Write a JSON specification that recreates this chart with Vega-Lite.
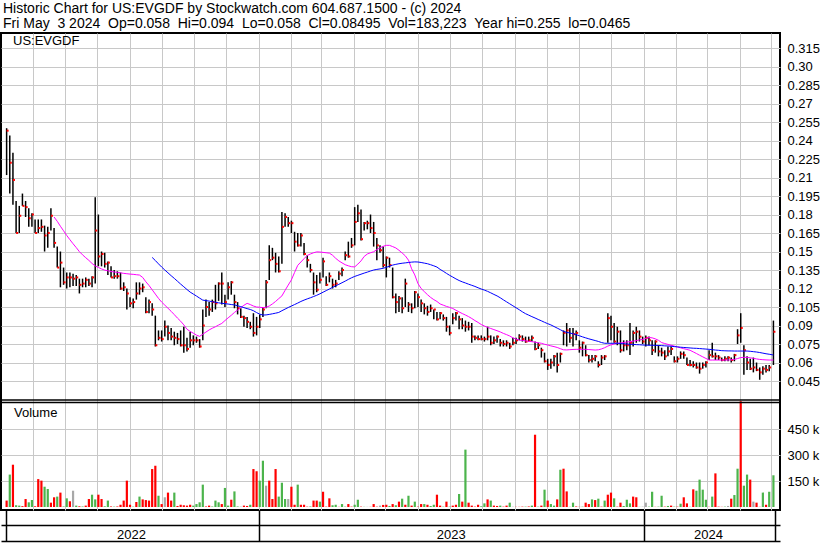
{
"$schema": "https://vega.github.io/schema/vega-lite/v6.json",
"width": 779, "height": 477,
"autosize": {"type": "none"},
"padding": {"left": 1, "top": 33, "right": 50, "bottom": 33},
"background": "white",
"title": {"text": ["Historic Chart for US:EVGDF by Stockwatch.com 604.687.1500 - (c) 2024", "Fri May \u00a03 2024 \u00a0Op=0.058 \u00a0Hi=0.094 \u00a0Lo=0.058 \u00a0Cl=0.08495 \u00a0Vol=183,223 \u00a0Year hi=0.255 \u00a0lo=0.0465"], "anchor": "start", "frame": "group", "font": "Liberation Sans", "fontSize": 14, "fontWeight": "normal", "color": "black", "lineHeight": 15, "offset": 2, "dx": 2},
"config": {"view": {"stroke": "black", "strokeWidth": 2}, "axis": {"labelFont": "Liberation Sans", "labelFontSize": 13, "labelColor": "black", "gridColor": "#c8c8c8", "gridWidth": 1}},
"datasets": {"p": [
{"d":"2022-05-07","h":0.250,"l":0.212,"c":0.248,"v":37,"s":"d"},
{"d":"2022-05-10","h":0.244,"l":0.197,"c":0.222,"v":187,"s":"u"},
{"d":"2022-05-13","h":0.230,"l":0.188,"c":0.208,"v":244,"s":"d"},
{"d":"2022-05-16","h":0.191,"l":0.165,"c":0.165,"v":10,"s":"u"},
{"d":"2022-05-19","h":0.187,"l":0.165,"c":0.179,"v":8,"s":"u"},
{"d":"2022-05-22","h":0.197,"l":0.187,"c":0.187,"v":5,"s":"d"},
{"d":"2022-05-25","h":0.191,"l":0.178,"c":0.186,"v":46,"s":"d"},
{"d":"2022-05-28","h":0.185,"l":0.170,"c":0.177,"v":27,"s":"u"},
{"d":"2022-05-31","h":0.181,"l":0.170,"c":0.180,"v":40,"s":"u"},
{"d":"2022-06-03","h":0.176,"l":0.165,"c":0.165,"v":4,"s":"d"},
{"d":"2022-06-06","h":0.176,"l":0.165,"c":0.169,"v":161,"s":"d"},
{"d":"2022-06-09","h":0.176,"l":0.166,"c":0.170,"v":152,"s":"d"},
{"d":"2022-06-12","h":0.171,"l":0.150,"c":0.163,"v":117,"s":"u"},
{"d":"2022-06-15","h":0.170,"l":0.153,"c":0.165,"v":104,"s":"u"},
{"d":"2022-06-18","h":0.185,"l":0.167,"c":0.179,"v":25,"s":"d"},
{"d":"2022-06-21","h":0.169,"l":0.153,"c":0.157,"v":56,"s":"d","m1":0.1780},
{"d":"2022-06-24","h":0.154,"l":0.137,"c":0.137,"v":60,"s":"u","m1":0.1745},
{"d":"2022-06-27","h":0.150,"l":0.121,"c":0.141,"v":83,"s":"d","m1":0.1705},
{"d":"2022-06-30","h":0.137,"l":0.123,"c":0.125,"v":3,"s":"u","m1":0.1668},
{"d":"2022-07-03","h":0.133,"l":0.120,"c":0.129,"v":50,"s":"u","m1":0.1630},
{"d":"2022-07-06","h":0.133,"l":0.121,"c":0.129,"v":33,"s":"d","m1":0.1596},
{"d":"2022-07-09","h":0.132,"l":0.122,"c":0.128,"v":94,"s":"f","m1":0.1563},
{"d":"2022-07-12","h":0.131,"l":0.122,"c":0.129,"v":8,"s":"u","m1":0.1532},
{"d":"2022-07-15","h":0.128,"l":0.116,"c":0.123,"v":4,"s":"d","m1":0.1499},
{"d":"2022-07-18","h":0.128,"l":0.121,"c":0.124,"v":3,"s":"u","m1":0.1473},
{"d":"2022-07-21","h":0.129,"l":0.121,"c":0.127,"v":8,"s":"d","m1":0.1450},
{"d":"2022-07-24","h":0.128,"l":0.122,"c":0.124,"v":46,"s":"d","m1":0.1428},
{"d":"2022-07-27","h":0.130,"l":0.121,"c":0.129,"v":71,"s":"u","m1":0.1403},
{"d":"2022-07-30","h":0.194,"l":0.124,"c":0.167,"v":44,"s":"u","m1":0.1383},
{"d":"2022-08-02","h":0.180,"l":0.138,"c":0.146,"v":71,"s":"d","m1":0.1371},
{"d":"2022-08-05","h":0.150,"l":0.138,"c":0.148,"v":46,"s":"d","m1":0.1359},
{"d":"2022-08-08","h":0.149,"l":0.137,"c":0.140,"v":4,"s":"u","m1":0.1349},
{"d":"2022-08-11","h":0.142,"l":0.131,"c":0.141,"v":37,"s":"u","m1":0.1344},
{"d":"2022-08-14","h":0.138,"l":0.129,"c":0.129,"v":3,"s":"d","m1":0.1338},
{"d":"2022-08-17","h":0.135,"l":0.128,"c":0.130,"v":2,"s":"u","m1":0.1334},
{"d":"2022-08-20","h":0.134,"l":0.128,"c":0.130,"v":3,"s":"d","m1":0.1331},
{"d":"2022-08-23","h":0.133,"l":0.119,"c":0.120,"v":13,"s":"d","m1":0.1327},
{"d":"2022-08-26","h":0.125,"l":0.118,"c":0.121,"v":37,"s":"d","m1":0.1323},
{"d":"2022-08-29","h":0.120,"l":0.103,"c":0.116,"v":152,"s":"d","m1":0.1320},
{"d":"2022-09-01","h":0.113,"l":0.105,"c":0.108,"v":13,"s":"d","m1":0.1317},
{"d":"2022-09-04","h":0.112,"l":0.104,"c":0.109,"v":2,"s":"u","m1":0.1315},
{"d":"2022-09-07","h":0.125,"l":0.111,"c":0.116,"v":29,"s":"d","m1":0.1312},
{"d":"2022-09-10","h":0.125,"l":0.115,"c":0.120,"v":60,"s":"u","m1":0.1309},
{"d":"2022-09-13","h":0.124,"l":0.117,"c":0.121,"v":44,"s":"d","m1":0.1290},
{"d":"2022-09-16","h":0.113,"l":0.100,"c":0.101,"v":40,"s":"d","m1":0.1255},
{"d":"2022-09-19","h":0.111,"l":0.100,"c":0.109,"v":37,"s":"d","m1":0.1225},
{"d":"2022-09-22","h":0.108,"l":0.098,"c":0.103,"v":219,"s":"d","m1":0.1190,"m2":0.1452},
{"d":"2022-09-25","h":0.098,"l":0.073,"c":0.074,"v":238,"s":"d","m1":0.1155,"m2":0.1427},
{"d":"2022-09-28","h":0.086,"l":0.078,"c":0.080,"v":65,"s":"u","m1":0.1120,"m2":0.1400},
{"d":"2022-10-01","h":0.086,"l":0.077,"c":0.079,"v":17,"s":"d","m1":0.1090,"m2":0.1374},
{"d":"2022-10-04","h":0.094,"l":0.081,"c":0.089,"v":56,"s":"f","m1":0.1065,"m2":0.1350},
{"d":"2022-10-07","h":0.090,"l":0.078,"c":0.084,"v":83,"s":"d","m1":0.1040,"m2":0.1327},
{"d":"2022-10-10","h":0.088,"l":0.078,"c":0.081,"v":37,"s":"d","m1":0.1015,"m2":0.1304},
{"d":"2022-10-13","h":0.085,"l":0.074,"c":0.080,"v":83,"s":"u","m1":0.0988,"m2":0.1282},
{"d":"2022-10-16","h":0.084,"l":0.075,"c":0.079,"v":6,"s":"d","m1":0.0960,"m2":0.1259},
{"d":"2022-10-19","h":0.086,"l":0.073,"c":0.074,"v":13,"s":"d","m1":0.0935,"m2":0.1236},
{"d":"2022-10-22","h":0.089,"l":0.068,"c":0.074,"v":10,"s":"d","m1":0.0905,"m2":0.1214},
{"d":"2022-10-25","h":0.080,"l":0.069,"c":0.071,"v":8,"s":"d","m1":0.0870,"m2":0.1192},
{"d":"2022-10-28","h":0.085,"l":0.072,"c":0.078,"v":13,"s":"d","m1":0.0852,"m2":0.1171},
{"d":"2022-10-31","h":0.082,"l":0.074,"c":0.078,"v":8,"s":"u","m1":0.0838,"m2":0.1155},
{"d":"2022-11-03","h":0.081,"l":0.076,"c":0.078,"v":17,"s":"u","m1":0.0822,"m2":0.1139},
{"d":"2022-11-06","h":0.079,"l":0.072,"c":0.073,"v":27,"s":"u","m1":0.0812,"m2":0.1122},
{"d":"2022-11-09","h":0.103,"l":0.078,"c":0.090,"v":129,"s":"u","m1":0.0830,"m2":0.1106},
{"d":"2022-11-12","h":0.111,"l":0.097,"c":0.105,"v":3,"s":"d","m1":0.0847,"m2":0.1102},
{"d":"2022-11-15","h":0.109,"l":0.098,"c":0.103,"v":8,"s":"d","m1":0.0864,"m2":0.1098},
{"d":"2022-11-18","h":0.111,"l":0.101,"c":0.109,"v":3,"s":"u","m1":0.0878,"m2":0.1093},
{"d":"2022-11-21","h":0.123,"l":0.103,"c":0.108,"v":37,"s":"u","m1":0.0890,"m2":0.1089},
{"d":"2022-11-24","h":0.125,"l":0.110,"c":0.124,"v":27,"s":"u","m1":0.0904,"m2":0.1084},
{"d":"2022-11-27","h":0.133,"l":0.107,"c":0.124,"v":17,"s":"d","m1":0.0917,"m2":0.1080},
{"d":"2022-11-30","h":0.115,"l":0.105,"c":0.109,"v":110,"s":"u","m1":0.0940,"m2":0.1077},
{"d":"2022-12-03","h":0.125,"l":0.111,"c":0.121,"v":8,"s":"u","m1":0.0962,"m2":0.1074},
{"d":"2022-12-06","h":0.126,"l":0.115,"c":0.125,"v":42,"s":"d","m1":0.0983,"m2":0.1070},
{"d":"2022-12-09","h":0.115,"l":0.104,"c":0.109,"v":90,"s":"u","m1":0.1006,"m2":0.1067},
{"d":"2022-12-12","h":0.109,"l":0.099,"c":0.104,"v":3,"s":"u","m1":0.1025,"m2":0.1060},
{"d":"2022-12-15","h":0.104,"l":0.096,"c":0.097,"v":2,"s":"f","m1":0.1045,"m2":0.1053},
{"d":"2022-12-18","h":0.098,"l":0.089,"c":0.096,"v":8,"s":"d","m1":0.1064,"m2":0.1045},
{"d":"2022-12-21","h":0.097,"l":0.088,"c":0.093,"v":6,"s":"d","m1":0.1080,"m2":0.1037},
{"d":"2022-12-24","h":0.093,"l":0.087,"c":0.089,"v":13,"s":"u","m1":0.1070,"m2":0.1030},
{"d":"2022-12-27","h":0.100,"l":0.081,"c":0.084,"v":219,"s":"d","m1":0.1058,"m2":0.1020},
{"d":"2022-12-30","h":0.097,"l":0.082,"c":0.089,"v":206,"s":"d","m1":0.1050,"m2":0.1005},
{"d":"2023-01-02","h":0.099,"l":0.088,"c":0.095,"v":152,"s":"u","m1":0.1048,"m2":0.0992},
{"d":"2023-01-05","h":0.105,"l":0.097,"c":0.103,"v":267,"s":"u","m1":0.1045,"m2":0.0985},
{"d":"2023-01-08","h":0.127,"l":0.104,"c":0.125,"v":123,"s":"f","m1":0.1048,"m2":0.0986},
{"d":"2023-01-11","h":0.155,"l":0.127,"c":0.143,"v":152,"s":"d","m1":0.1058,"m2":0.0990},
{"d":"2023-01-14","h":0.153,"l":0.143,"c":0.145,"v":46,"s":"d","m1":0.1075,"m2":0.0995},
{"d":"2023-01-17","h":0.149,"l":0.133,"c":0.140,"v":219,"s":"d","m1":0.1095,"m2":0.1000},
{"d":"2023-01-20","h":0.146,"l":0.133,"c":0.134,"v":60,"s":"u","m1":0.1118,"m2":0.1006},
{"d":"2023-01-23","h":0.182,"l":0.140,"c":0.170,"v":140,"s":"u","m1":0.1140,"m2":0.1020},
{"d":"2023-01-26","h":0.181,"l":0.170,"c":0.178,"v":46,"s":"u","m1":0.1185,"m2":0.1033},
{"d":"2023-01-29","h":0.178,"l":0.170,"c":0.173,"v":46,"s":"f","m1":0.1228,"m2":0.1046},
{"d":"2023-02-01","h":0.175,"l":0.165,"c":0.173,"v":117,"s":"d","m1":0.1270,"m2":0.1058},
{"d":"2023-02-04","h":0.166,"l":0.150,"c":0.158,"v":13,"s":"d","m1":0.1330,"m2":0.1070},
{"d":"2023-02-07","h":0.165,"l":0.154,"c":0.155,"v":129,"s":"u","m1":0.1388,"m2":0.1082},
{"d":"2023-02-10","h":0.165,"l":0.154,"c":0.163,"v":13,"s":"d","m1":0.1415,"m2":0.1095},
{"d":"2023-02-13","h":0.157,"l":0.147,"c":0.148,"v":13,"s":"d","m1":0.1442,"m2":0.1106},
{"d":"2023-02-16","h":0.147,"l":0.137,"c":0.143,"v":2,"s":"d","m1":0.1468,"m2":0.1116},
{"d":"2023-02-19","h":0.140,"l":0.133,"c":0.135,"v":3,"s":"u","m1":0.1480,"m2":0.1125},
{"d":"2023-02-22","h":0.133,"l":0.115,"c":0.125,"v":37,"s":"d","m1":0.1490,"m2":0.1135},
{"d":"2023-02-25","h":0.131,"l":0.117,"c":0.119,"v":37,"s":"d","m1":0.1497,"m2":0.1145},
{"d":"2023-02-28","h":0.133,"l":0.124,"c":0.127,"v":31,"s":"u","m1":0.1496,"m2":0.1157},
{"d":"2023-03-03","h":0.145,"l":0.129,"c":0.142,"v":88,"s":"d","m1":0.1493,"m2":0.1170},
{"d":"2023-03-06","h":0.130,"l":0.122,"c":0.123,"v":2,"s":"d","m1":0.1490,"m2":0.1183},
{"d":"2023-03-09","h":0.133,"l":0.125,"c":0.130,"v":50,"s":"d","m1":0.1487,"m2":0.1196},
{"d":"2023-03-12","h":0.128,"l":0.120,"c":0.123,"v":10,"s":"u","m1":0.1470,"m2":0.1209},
{"d":"2023-03-15","h":0.127,"l":0.121,"c":0.124,"v":13,"s":"u","m1":0.1445,"m2":0.1222},
{"d":"2023-03-18","h":0.134,"l":0.127,"c":0.132,"v":1,"s":"d","m1":0.1424,"m2":0.1234},
{"d":"2023-03-21","h":0.137,"l":0.130,"c":0.135,"v":17,"s":"u","m1":0.1408,"m2":0.1247},
{"d":"2023-03-24","h":0.150,"l":0.143,"c":0.147,"v":2,"s":"u","m1":0.1393,"m2":0.1260},
{"d":"2023-03-27","h":0.158,"l":0.145,"c":0.146,"v":17,"s":"d","m1":0.1384,"m2":0.1274},
{"d":"2023-03-30","h":0.161,"l":0.153,"c":0.155,"v":2,"s":"d","m1":0.1377,"m2":0.1287},
{"d":"2023-04-02","h":0.186,"l":0.155,"c":0.174,"v":13,"s":"u","m1":0.1375,"m2":0.1298},
{"d":"2023-04-05","h":0.188,"l":0.174,"c":0.181,"v":42,"s":"u","m1":0.1398,"m2":0.1307},
{"d":"2023-04-08","h":0.184,"l":0.159,"c":0.160,"v":2,"s":"d","m1":0.1424,"m2":0.1316},
{"d":"2023-04-11","h":0.174,"l":0.167,"c":0.173,"v":1,"s":"u","m1":0.1460,"m2":0.1325},
{"d":"2023-04-14","h":0.175,"l":0.168,"c":0.173,"v":1,"s":"f","m1":0.1480,"m2":0.1333},
{"d":"2023-04-17","h":0.180,"l":0.165,"c":0.169,"v":1,"s":"d","m1":0.1490,"m2":0.1342},
{"d":"2023-04-20","h":0.174,"l":0.154,"c":0.165,"v":17,"s":"d","m1":0.1498,"m2":0.1350},
{"d":"2023-04-23","h":0.161,"l":0.143,"c":0.155,"v":2,"s":"d","m1":0.1515,"m2":0.1355},
{"d":"2023-04-26","h":0.155,"l":0.149,"c":0.151,"v":8,"s":"f","m1":0.1530,"m2":0.1359},
{"d":"2023-04-29","h":0.154,"l":0.137,"c":0.139,"v":12,"s":"d","m1":0.1542,"m2":0.1364},
{"d":"2023-05-02","h":0.146,"l":0.129,"c":0.145,"v":13,"s":"d","m1":0.1550,"m2":0.1372},
{"d":"2023-05-05","h":0.145,"l":0.137,"c":0.139,"v":6,"s":"u","m1":0.1550,"m2":0.1381},
{"d":"2023-05-08","h":0.137,"l":0.112,"c":0.113,"v":17,"s":"d","m1":0.1540,"m2":0.1390},
{"d":"2023-05-11","h":0.116,"l":0.100,"c":0.109,"v":10,"s":"u","m1":0.1529,"m2":0.1396},
{"d":"2023-05-14","h":0.114,"l":0.101,"c":0.112,"v":31,"s":"d","m1":0.1510,"m2":0.1401},
{"d":"2023-05-17","h":0.113,"l":0.100,"c":0.104,"v":48,"s":"u","m1":0.1488,"m2":0.1405},
{"d":"2023-05-20","h":0.128,"l":0.105,"c":0.124,"v":13,"s":"d","m1":0.1465,"m2":0.1408},
{"d":"2023-05-23","h":0.109,"l":0.101,"c":0.107,"v":65,"s":"u","m1":0.1430,"m2":0.1411},
{"d":"2023-05-26","h":0.108,"l":0.100,"c":0.104,"v":8,"s":"d","m1":0.1360,"m2":0.1414},
{"d":"2023-05-29","h":0.118,"l":0.104,"c":0.117,"v":31,"s":"u","m1":0.1310,"m2":0.1416},
{"d":"2023-06-01","h":0.116,"l":0.105,"c":0.113,"v":2,"s":"d","m1":0.1240,"m2":0.1415},
{"d":"2023-06-04","h":0.111,"l":0.101,"c":0.108,"v":17,"s":"d","m1":0.1200,"m2":0.1411},
{"d":"2023-06-07","h":0.108,"l":0.099,"c":0.104,"v":17,"s":"u","m1":0.1175,"m2":0.1406},
{"d":"2023-06-10","h":0.106,"l":0.098,"c":0.101,"v":13,"s":"d","m1":0.1150,"m2":0.1401},
{"d":"2023-06-13","h":0.107,"l":0.101,"c":0.104,"v":6,"s":"u","m1":0.1128,"m2":0.1393},
{"d":"2023-06-16","h":0.103,"l":0.095,"c":0.103,"v":13,"s":"u","m1":0.1110,"m2":0.1384},
{"d":"2023-06-19","h":0.101,"l":0.094,"c":0.095,"v":71,"s":"d","m1":0.1095,"m2":0.1374},
{"d":"2023-06-22","h":0.101,"l":0.095,"c":0.100,"v":8,"s":"d","m1":0.1075,"m2":0.1355},
{"d":"2023-06-25","h":0.099,"l":0.094,"c":0.096,"v":2,"s":"u","m1":0.1065,"m2":0.1340},
{"d":"2023-06-28","h":0.097,"l":0.085,"c":0.089,"v":31,"s":"d","m1":0.1055,"m2":0.1323},
{"d":"2023-07-01","h":0.090,"l":0.082,"c":0.084,"v":2,"s":"u","m1":0.1047,"m2":0.1307},
{"d":"2023-07-04","h":0.100,"l":0.091,"c":0.096,"v":8,"s":"d","m1":0.1038,"m2":0.1293},
{"d":"2023-07-07","h":0.101,"l":0.094,"c":0.100,"v":13,"s":"d","m1":0.1024,"m2":0.1278},
{"d":"2023-07-10","h":0.098,"l":0.087,"c":0.095,"v":75,"s":"u","m1":0.1010,"m2":0.1265},
{"d":"2023-07-13","h":0.096,"l":0.087,"c":0.090,"v":31,"s":"d","m1":0.0997,"m2":0.1254},
{"d":"2023-07-16","h":0.094,"l":0.085,"c":0.089,"v":331,"s":"u","m1":0.0985,"m2":0.1245},
{"d":"2023-07-19","h":0.093,"l":0.086,"c":0.089,"v":25,"s":"d","m1":0.0972,"m2":0.1235},
{"d":"2023-07-22","h":0.092,"l":0.076,"c":0.081,"v":8,"s":"d","m1":0.0957,"m2":0.1226},
{"d":"2023-07-25","h":0.082,"l":0.078,"c":0.080,"v":2,"s":"d","m1":0.0940,"m2":0.1217},
{"d":"2023-07-28","h":0.082,"l":0.078,"c":0.079,"v":13,"s":"d","m1":0.0925,"m2":0.1206},
{"d":"2023-07-31","h":0.082,"l":0.078,"c":0.079,"v":4,"s":"u","m1":0.0908,"m2":0.1196},
{"d":"2023-08-03","h":0.081,"l":0.077,"c":0.079,"v":21,"s":"u","m1":0.0896,"m2":0.1187},
{"d":"2023-08-06","h":0.089,"l":0.078,"c":0.081,"v":44,"s":"d","m1":0.0885,"m2":0.1177},
{"d":"2023-08-09","h":0.082,"l":0.074,"c":0.076,"v":37,"s":"u","m1":0.0876,"m2":0.1165},
{"d":"2023-08-12","h":0.081,"l":0.075,"c":0.078,"v":8,"s":"d","m1":0.0867,"m2":0.1152},
{"d":"2023-08-15","h":0.082,"l":0.076,"c":0.081,"v":6,"s":"d","m1":0.0858,"m2":0.1140},
{"d":"2023-08-18","h":0.079,"l":0.073,"c":0.076,"v":8,"s":"u","m1":0.0848,"m2":0.1125},
{"d":"2023-08-21","h":0.078,"l":0.073,"c":0.075,"v":2,"s":"d","m1":0.0836,"m2":0.1108},
{"d":"2023-08-24","h":0.078,"l":0.073,"c":0.076,"v":8,"s":"d","m1":0.0826,"m2":0.1092},
{"d":"2023-08-27","h":0.076,"l":0.071,"c":0.073,"v":25,"s":"u","m1":0.0815,"m2":0.1076},
{"d":"2023-08-30","h":0.080,"l":0.074,"c":0.076,"v":1,"s":"f","m1":0.0800,"m2":0.1060},
{"d":"2023-09-02","h":0.080,"l":0.075,"c":0.078,"v":1,"s":"d","m1":0.0790,"m2":0.1044},
{"d":"2023-09-05","h":0.083,"l":0.078,"c":0.081,"v":1,"s":"d","m1":0.0782,"m2":0.1028},
{"d":"2023-09-08","h":0.082,"l":0.077,"c":0.079,"v":2,"s":"d","m1":0.0779,"m2":0.1011},
{"d":"2023-09-11","h":0.081,"l":0.076,"c":0.077,"v":2,"s":"u","m1":0.0776,"m2":0.0996},
{"d":"2023-09-14","h":0.081,"l":0.077,"c":0.078,"v":3,"s":"d","m1":0.0772,"m2":0.0984},
{"d":"2023-09-17","h":0.082,"l":0.077,"c":0.080,"v":8,"s":"u","m1":0.0769,"m2":0.0972},
{"d":"2023-09-20","h":0.077,"l":0.070,"c":0.071,"v":417,"s":"d","m1":0.0765,"m2":0.0961},
{"d":"2023-09-23","h":0.076,"l":0.071,"c":0.074,"v":2,"s":"u","m1":0.0760,"m2":0.0949},
{"d":"2023-09-26","h":0.072,"l":0.064,"c":0.070,"v":8,"s":"d","m1":0.0756,"m2":0.0938},
{"d":"2023-09-29","h":0.068,"l":0.060,"c":0.061,"v":100,"s":"u","m1":0.0748,"m2":0.0926},
{"d":"2023-10-02","h":0.063,"l":0.054,"c":0.058,"v":37,"s":"d","m1":0.0742,"m2":0.0915},
{"d":"2023-10-05","h":0.063,"l":0.055,"c":0.060,"v":17,"s":"u","m1":0.0735,"m2":0.0905},
{"d":"2023-10-08","h":0.066,"l":0.057,"c":0.065,"v":8,"s":"u","m1":0.0729,"m2":0.0892},
{"d":"2023-10-11","h":0.068,"l":0.052,"c":0.058,"v":44,"s":"d","m1":0.0722,"m2":0.0879},
{"d":"2023-10-14","h":0.068,"l":0.060,"c":0.067,"v":215,"s":"u","m1":0.0712,"m2":0.0866},
{"d":"2023-10-17","h":0.086,"l":0.074,"c":0.084,"v":221,"s":"d","m1":0.0703,"m2":0.0852},
{"d":"2023-10-20","h":0.092,"l":0.073,"c":0.086,"v":90,"s":"d","m1":0.0702,"m2":0.0845},
{"d":"2023-10-23","h":0.088,"l":0.076,"c":0.080,"v":1,"s":"u","m1":0.0704,"m2":0.0839},
{"d":"2023-10-26","h":0.088,"l":0.073,"c":0.083,"v":25,"s":"u","m1":0.0706,"m2":0.0833},
{"d":"2023-10-29","h":0.086,"l":0.078,"c":0.084,"v":3,"s":"d","m1":0.0707,"m2":0.0826},
{"d":"2023-11-01","h":0.078,"l":0.068,"c":0.072,"v":1,"s":"d","m1":0.0707,"m2":0.0817},
{"d":"2023-11-04","h":0.077,"l":0.065,"c":0.076,"v":2,"s":"u","m1":0.0707,"m2":0.0808},
{"d":"2023-11-07","h":0.074,"l":0.065,"c":0.066,"v":25,"s":"d","m1":0.0707,"m2":0.0800},
{"d":"2023-11-10","h":0.066,"l":0.060,"c":0.062,"v":17,"s":"d","m1":0.0705,"m2":0.0792},
{"d":"2023-11-13","h":0.066,"l":0.060,"c":0.063,"v":44,"s":"u","m1":0.0703,"m2":0.0785},
{"d":"2023-11-16","h":0.066,"l":0.061,"c":0.065,"v":40,"s":"d","m1":0.0701,"m2":0.0778},
{"d":"2023-11-19","h":0.061,"l":0.056,"c":0.058,"v":48,"s":"u","m1":0.0703,"m2":0.0771},
{"d":"2023-11-22","h":0.066,"l":0.058,"c":0.064,"v":2,"s":"d","m1":0.0710,"m2":0.0762},
{"d":"2023-11-25","h":0.066,"l":0.062,"c":0.065,"v":37,"s":"u","m1":0.0720,"m2":0.0756},
{"d":"2023-11-28","h":0.100,"l":0.076,"c":0.096,"v":71,"s":"d","m1":0.0733,"m2":0.0756},
{"d":"2023-12-01","h":0.098,"l":0.078,"c":0.089,"v":83,"s":"d","m1":0.0743,"m2":0.0756},
{"d":"2023-12-04","h":0.092,"l":0.076,"c":0.077,"v":50,"s":"u","m1":0.0750,"m2":0.0756},
{"d":"2023-12-07","h":0.089,"l":0.074,"c":0.085,"v":2,"s":"d","m1":0.0756,"m2":0.0756},
{"d":"2023-12-10","h":0.086,"l":0.068,"c":0.070,"v":25,"s":"d","m1":0.0759,"m2":0.0754},
{"d":"2023-12-13","h":0.078,"l":0.069,"c":0.074,"v":6,"s":"u","m1":0.0762,"m2":0.0752},
{"d":"2023-12-16","h":0.078,"l":0.070,"c":0.074,"v":42,"s":"u","m1":0.0766,"m2":0.0750},
{"d":"2023-12-19","h":0.092,"l":0.066,"c":0.076,"v":21,"s":"u","m1":0.0769,"m2":0.0748},
{"d":"2023-12-22","h":0.086,"l":0.073,"c":0.084,"v":60,"s":"d","m1":0.0773,"m2":0.0747},
{"d":"2023-12-25","h":0.089,"l":0.076,"c":0.085,"v":56,"s":"d","m1":0.0778,"m2":0.0745},
{"d":"2023-12-28","h":0.086,"l":0.077,"c":0.081,"v":1,"s":"u","m1":0.0783,"m2":0.0744},
{"d":"2023-12-31","h":0.081,"l":0.075,"c":0.077,"v":2,"s":"f","m1":0.0788,"m2":0.0742},
{"d":"2024-01-03","h":0.082,"l":0.073,"c":0.080,"v":25,"s":"f","m1":0.0796,"m2":0.0741},
{"d":"2024-01-06","h":0.081,"l":0.074,"c":0.078,"v":2,"s":"u","m1":0.0803,"m2":0.0740},
{"d":"2024-01-09","h":0.078,"l":0.066,"c":0.070,"v":88,"s":"u","m1":0.0800,"m2":0.0740},
{"d":"2024-01-12","h":0.078,"l":0.068,"c":0.077,"v":1,"s":"d","m1":0.0792,"m2":0.0739},
{"d":"2024-01-15","h":0.074,"l":0.065,"c":0.069,"v":2,"s":"u","m1":0.0780,"m2":0.0738},
{"d":"2024-01-18","h":0.072,"l":0.065,"c":0.068,"v":65,"s":"u","m1":0.0762,"m2":0.0737},
{"d":"2024-01-21","h":0.070,"l":0.062,"c":0.065,"v":2,"s":"d","m1":0.0754,"m2":0.0735},
{"d":"2024-01-24","h":0.073,"l":0.065,"c":0.069,"v":6,"s":"u","m1":0.0747,"m2":0.0734},
{"d":"2024-01-27","h":0.073,"l":0.066,"c":0.071,"v":8,"s":"d","m1":0.0740,"m2":0.0732},
{"d":"2024-01-30","h":0.065,"l":0.060,"c":0.061,"v":2,"s":"u","m1":0.0733,"m2":0.0729},
{"d":"2024-02-02","h":0.065,"l":0.060,"c":0.063,"v":2,"s":"d","m1":0.0726,"m2":0.0727},
{"d":"2024-02-05","h":0.069,"l":0.063,"c":0.067,"v":19,"s":"u","m1":0.0719,"m2":0.0724},
{"d":"2024-02-08","h":0.069,"l":0.063,"c":0.066,"v":56,"s":"d","m1":0.0712,"m2":0.0722},
{"d":"2024-02-11","h":0.064,"l":0.058,"c":0.058,"v":21,"s":"d","m1":0.0706,"m2":0.0720},
{"d":"2024-02-14","h":0.062,"l":0.057,"c":0.058,"v":1,"s":"u","m1":0.0699,"m2":0.0718},
{"d":"2024-02-17","h":0.061,"l":0.056,"c":0.058,"v":102,"s":"d","m1":0.0686,"m2":0.0716},
{"d":"2024-02-20","h":0.060,"l":0.055,"c":0.056,"v":94,"s":"u","m1":0.0673,"m2":0.0715},
{"d":"2024-02-23","h":0.060,"l":0.051,"c":0.055,"v":158,"s":"u","m1":0.0659,"m2":0.0713},
{"d":"2024-02-26","h":0.060,"l":0.055,"c":0.058,"v":100,"s":"u","m1":0.0646,"m2":0.0711},
{"d":"2024-02-29","h":0.061,"l":0.056,"c":0.060,"v":42,"s":"u","m1":0.0633,"m2":0.0709},
{"d":"2024-03-03","h":0.070,"l":0.062,"c":0.066,"v":1,"s":"d","m1":0.0620,"m2":0.0707},
{"d":"2024-03-06","h":0.076,"l":0.064,"c":0.065,"v":60,"s":"u","m1":0.0620,"m2":0.0704},
{"d":"2024-03-09","h":0.068,"l":0.062,"c":0.065,"v":194,"s":"d","m1":0.0620,"m2":0.0701},
{"d":"2024-03-12","h":0.066,"l":0.062,"c":0.064,"v":2,"s":"d","m1":0.0620,"m2":0.0699},
{"d":"2024-03-15","h":0.064,"l":0.061,"c":0.062,"v":1,"s":"d","m1":0.0620,"m2":0.0696},
{"d":"2024-03-18","h":0.065,"l":0.061,"c":0.063,"v":2,"s":"u","m1":0.0620,"m2":0.0695},
{"d":"2024-03-21","h":0.065,"l":0.061,"c":0.064,"v":6,"s":"f","m1":0.0620,"m2":0.0694},
{"d":"2024-03-24","h":0.064,"l":0.060,"c":0.062,"v":48,"s":"d","m1":0.0622,"m2":0.0694},
{"d":"2024-03-27","h":0.067,"l":0.061,"c":0.066,"v":69,"s":"u","m1":0.0625,"m2":0.0693},
{"d":"2024-03-30","h":0.087,"l":0.075,"c":0.082,"v":221,"s":"u","m1":0.0632,"m2":0.0693},
{"d":"2024-04-02","h":0.100,"l":0.076,"c":0.088,"v":610,"s":"d","m1":0.0640,"m2":0.0693},
{"d":"2024-04-05","h":0.074,"l":0.050,"c":0.070,"v":123,"s":"u","m1":0.0642,"m2":0.0693},
{"d":"2024-04-08","h":0.065,"l":0.054,"c":0.060,"v":187,"s":"u","m1":0.0642,"m2":0.0693},
{"d":"2024-04-11","h":0.063,"l":0.054,"c":0.055,"v":158,"s":"d","m1":0.0638,"m2":0.0691},
{"d":"2024-04-14","h":0.064,"l":0.052,"c":0.056,"v":31,"s":"f","m1":0.0634,"m2":0.0688},
{"d":"2024-04-17","h":0.060,"l":0.053,"c":0.054,"v":25,"s":"d","m1":0.0629,"m2":0.0685},
{"d":"2024-04-20","h":0.056,"l":0.046,"c":0.052,"v":1,"s":"d","m1":0.0625,"m2":0.0681},
{"d":"2024-04-23","h":0.057,"l":0.050,"c":0.055,"v":83,"s":"u","m1":0.0623,"m2":0.0676},
{"d":"2024-04-26","h":0.058,"l":0.052,"c":0.054,"v":13,"s":"d","m1":0.0621,"m2":0.0671},
{"d":"2024-04-29","h":0.058,"l":0.053,"c":0.056,"v":88,"s":"u","m1":0.0620,"m2":0.0667},
{"d":"2024-05-03","h":0.094,"l":0.058,"c":0.08495,"v":183,"s":"u","m1":0.0620,"m2":0.0661}
]},
"data": {"name": "p"},
"resolve": {"scale": {"y": "independent"}, "axis": {"x": "independent"}},
"layer": [
 {"mark": {"type": "rule", "color": "black", "strokeWidth": 1.5},
  "encoding": {
   "x": {"field": "d", "type": "temporal", "scale": {"type": "utc", "domain": [{"year": 2022, "month": 5, "date": 6, "hours": 10, "utc": true}, {"year": 2024, "month": 5, "date": 4, "hours": 12, "utc": true}]},
         "axis": {"orient": "bottom", "grid": true, "gridColor": "#c8c8c8", "tickCount": {"interval": "month", "step": 1}, "labels": false, "ticks": false, "domain": false, "title": null}},
   "y": {"field": "h", "type": "quantitative", "scale": {"domain": [-0.0596, 0.3272], "nice": false, "zero": false},
         "axis": {"orient": "right", "values": [0.045, 0.06, 0.075, 0.09, 0.105, 0.12, 0.135, 0.15, 0.165, 0.18, 0.195, 0.21, 0.225, 0.24, 0.255, 0.27, 0.285, 0.3, 0.315],
                  "labelExpr": "substring(format(datum.value,'.3f'),4,5)=='0' ? format(datum.value,'.2f') : format(datum.value,'.3f')",
                  "grid": true, "gridColor": "#c8c8c8", "ticks": false, "domain": false, "labelPadding": 7, "title": null}},
   "y2": {"field": "l"}}},
 {"mark": {"type": "square", "color": "#ff0000", "size": 4, "opacity": 1, "xOffset": 1},
  "encoding": {
   "x": {"field": "d", "type": "temporal", "scale": {"type": "utc", "domain": [{"year": 2022, "month": 5, "date": 6, "hours": 10, "utc": true}, {"year": 2024, "month": 5, "date": 4, "hours": 12, "utc": true}]}, "axis": null},
   "y": {"field": "c", "type": "quantitative", "scale": {"domain": [-0.0596, 0.3272], "nice": false, "zero": false}, "axis": null}}},
 {"mark": {"type": "line", "color": "#ff00ff", "strokeWidth": 1},
  "encoding": {
   "x": {"field": "d", "type": "temporal", "scale": {"type": "utc", "domain": [{"year": 2022, "month": 5, "date": 6, "hours": 10, "utc": true}, {"year": 2024, "month": 5, "date": 4, "hours": 12, "utc": true}]},
         "axis": {"orient": "bottom", "offset": 0, "values": [{"year": 2022, "month": 5, "date": 6, "hours": 10, "utc": true}, {"year": 2023, "month": 1, "date": 1, "utc": true}, {"year": 2024, "month": 1, "date": 1, "utc": true}, {"year": 2024, "month": 5, "date": 4, "hours": 12, "utc": true}],
                  "labels": false, "ticks": true, "tickSize": 31, "tickColor": "black", "tickWidth": 1.5, "domain": false, "grid": false, "title": null}},
   "y": {"field": "m1", "type": "quantitative", "scale": {"domain": [-0.0596, 0.3272], "nice": false, "zero": false}, "axis": null}}},
 {"mark": {"type": "line", "color": "#0000ff", "strokeWidth": 1},
  "encoding": {
   "x": {"field": "d", "type": "temporal", "scale": {"type": "utc", "domain": [{"year": 2022, "month": 5, "date": 6, "hours": 10, "utc": true}, {"year": 2024, "month": 5, "date": 4, "hours": 12, "utc": true}]},
         "axis": {"orient": "bottom", "offset": 31, "labels": false, "ticks": false, "domain": true, "domainColor": "black", "domainWidth": 1.5, "grid": false, "title": null}},
   "y": {"field": "m2", "type": "quantitative", "scale": {"domain": [-0.0596, 0.3272], "nice": false, "zero": false}, "axis": null}}},
 {"mark": {"type": "bar", "size": 2.2},
  "encoding": {
   "x": {"field": "d", "type": "temporal", "scale": {"type": "utc", "domain": [{"year": 2022, "month": 5, "date": 6, "hours": 10, "utc": true}, {"year": 2024, "month": 5, "date": 4, "hours": 12, "utc": true}]},
         "axis": {"orient": "bottom", "offset": 15, "values": [{"year": 2022, "month": 9, "date": 2, "utc": true}, {"year": 2023, "month": 7, "date": 2, "utc": true}, {"year": 2024, "month": 3, "date": 2, "utc": true}],
                  "labelExpr": "utcFormat(datum.value, '%Y')", "labelFlush": false, "labelOverlap": false, "ticks": false, "grid": false, "domain": true, "domainColor": "black", "domainWidth": 1.5, "labelPadding": 3, "title": null}},
   "y": {"field": "v", "type": "quantitative", "scale": {"domain": [-17.3, 2734.6], "nice": false, "zero": false},
         "axis": {"orient": "right", "values": [150, 300, 450], "labelExpr": "datum.value + ' k'", "grid": true, "gridColor": "#c8c8c8", "ticks": false, "domain": false, "labelPadding": 7, "title": null}},
   "color": {"field": "s", "type": "nominal", "scale": {"domain": ["u", "d", "f"], "range": ["#4cb44c", "#ff0000", "#a8a8a8"]}, "legend": null}}},
 {"data": {"values": [{"t": "US:EVGDF"}]},
  "mark": {"type": "text", "align": "left", "baseline": "middle", "dx": 7, "font": "Liberation Sans", "fontSize": 13, "color": "black"},
  "encoding": {
   "x": {"datum": {"year": 2022, "month": 5, "date": 6, "hours": 10, "utc": true}, "type": "temporal", "scale": {"type": "utc", "domain": [{"year": 2022, "month": 5, "date": 6, "hours": 10, "utc": true}, {"year": 2024, "month": 5, "date": 4, "hours": 12, "utc": true}]}, "axis": null},
   "y": {"datum": 0.3205, "type": "quantitative", "scale": {"domain": [-0.0596, 0.3272], "nice": false, "zero": false}, "axis": null},
   "text": {"field": "t"}}},
 {"data": {"values": [{"t": "Volume"}]},
  "mark": {"type": "text", "align": "left", "baseline": "middle", "dx": 8, "font": "Liberation Sans", "fontSize": 13, "color": "black"},
  "encoding": {
   "x": {"datum": {"year": 2022, "month": 5, "date": 6, "hours": 10, "utc": true}, "type": "temporal", "scale": {"type": "utc", "domain": [{"year": 2022, "month": 5, "date": 6, "hours": 10, "utc": true}, {"year": 2024, "month": 5, "date": 4, "hours": 12, "utc": true}]}, "axis": null},
   "y": {"datum": 542, "type": "quantitative", "scale": {"domain": [-17.3, 2734.6], "nice": false, "zero": false}, "axis": null},
   "text": {"field": "t"}}},
 {"data": {"values": [{"b": 603}, {"b": 618}]},
  "mark": {"type": "rule", "color": "black", "strokeWidth": 1.5},
  "encoding": {"y": {"field": "b", "type": "quantitative", "scale": {"domain": [-17.3, 2734.6], "nice": false, "zero": false}, "axis": null}}}
]
}
